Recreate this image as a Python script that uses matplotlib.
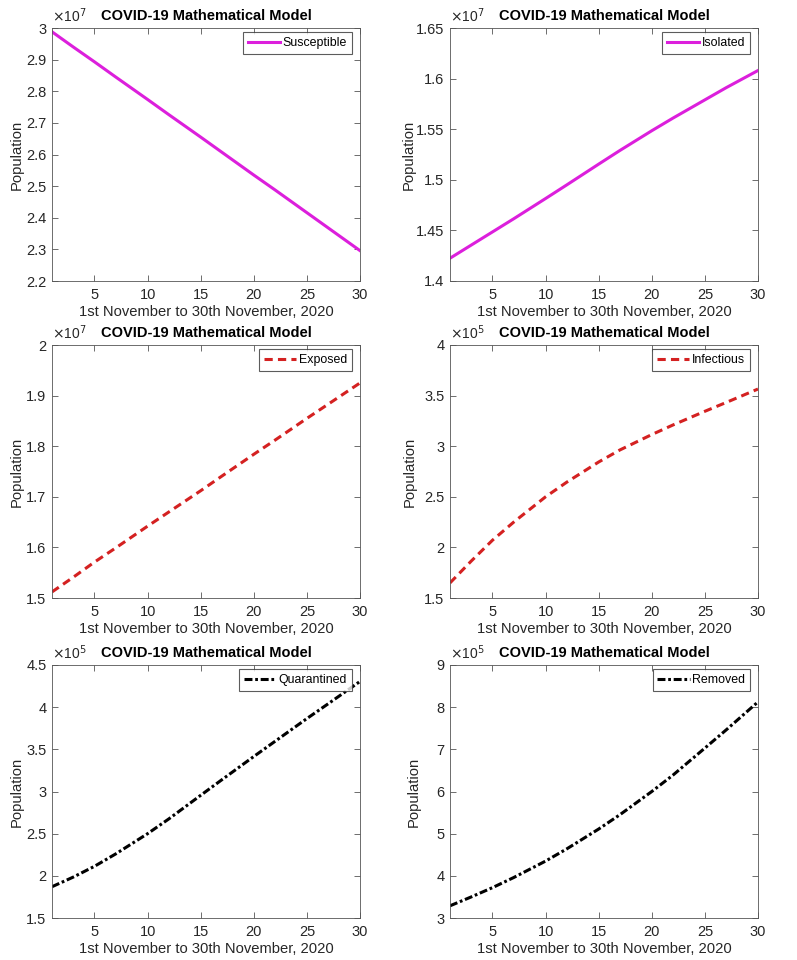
import matplotlib
matplotlib.use("Agg")
import matplotlib.pyplot as plt
from matplotlib.ticker import FuncFormatter

plt.rcParams['font.family'] = ['Liberation Sans', 'DejaVu Sans']

days = [1, 3, 5, 7, 10, 12, 15, 17, 20, 22, 25, 27, 30]
susceptible = [2.988e7, 2.940e7, 2.893e7, 2.845e7, 2.774e7, 2.726e7, 2.655e7,
               2.607e7, 2.535e7, 2.488e7, 2.416e7, 2.368e7, 2.296e7]
isolated = [1.4225e7, 1.4355e7, 1.4485e7, 1.4615e7, 1.4815e7, 1.495e7, 1.5155e7,
            1.529e7, 1.5485e7, 1.561e7, 1.579e7, 1.591e7, 1.608e7]
exposed = [1.512e7, 1.541e7, 1.571e7, 1.599e7, 1.642e7, 1.670e7, 1.712e7,
           1.741e7, 1.784e7, 1.812e7, 1.855e7, 1.883e7, 1.925e7]
infectious = [1.649e5, 1.865e5, 2.071e5, 2.25e5, 2.50e5, 2.645e5, 2.844e5,
              2.963e5, 3.115e5, 3.21e5, 3.345e5, 3.432e5, 3.565e5]
quarantined = [1.871e5, 1.985e5, 2.113e5, 2.26e5, 2.50e5, 2.675e5, 2.955e5,
               3.14e5, 3.415e5, 3.595e5, 3.865e5, 4.04e5, 4.305e5]
removed = [3.289e5, 3.50e5, 3.72e5, 3.96e5, 4.35e5, 4.64e5, 5.11e5,
           5.45e5, 6.00e5, 6.39e5, 7.03e5, 7.46e5, 8.125e5]

title = "COVID-19 Mathematical Model"
xlabel = "1st November to 30th November, 2020"
ylabel = "Population"
xticks = [5, 10, 15, 20, 25, 30]

MAG = "#dc1fdc"
RED = "#d42121"
DASH = (0, (2.7, 1.7))
DASHDOT = (0, (2.6, 0.9, 0.9, 0.9))

panels = [
    (susceptible, "Susceptible", MAG, "-", 7, (2.2, 3.0), [2.2, 2.3, 2.4, 2.5, 2.6, 2.7, 2.8, 2.9, 3.0], 17),
    (isolated, "Isolated", MAG, "-", 7, (1.4, 1.65), [1.4, 1.45, 1.5, 1.55, 1.6, 1.65], 409),
    (exposed, "Exposed", RED, DASH, 7, (1.5, 2.0), [1.5, 1.6, 1.7, 1.8, 1.9, 2.0], 17),
    (infectious, "Infectious", RED, DASH, 5, (1.5, 4.0), [1.5, 2, 2.5, 3, 3.5, 4], 410),
    (quarantined, "Quarantined", "black", DASHDOT, 5, (1.5, 4.5), [1.5, 2, 2.5, 3, 3.5, 4, 4.5], 17),
    (removed, "Removed", "black", DASHDOT, 5, (3, 9), [3, 4, 5, 6, 7, 8, 9], 414),
]

W, H = 797, 960
fig = plt.figure(figsize=(W / 100, H / 100), dpi=100)
lefts_px = [52, 450]
w_px, h_px = 308, 253
tops_px = [28, 345, 665]

def fmt_num(v):
    return ("%.2f" % v).rstrip('0').rstrip('.')

for i, (vals, name, color, ls, exp, ylim, yt, ylab_x) in enumerate(panels):
    r, c = divmod(i, 2)
    lp = lefts_px[c]
    ax = fig.add_axes([lp / W, 1 - (tops_px[r] + h_px) / H, w_px / W, h_px / H])
    ax.plot(days, vals, color=color, linestyle=ls, linewidth=2.2, label=name)
    scale = 10 ** exp
    ax.set_xlim(1, 30)
    ax.set_ylim(ylim[0] * scale, ylim[1] * scale)
    ax.set_xticks(xticks)
    ax.set_yticks([v * scale for v in yt])
    ax.yaxis.set_major_formatter(FuncFormatter(lambda v, p, s=scale: fmt_num(v / s)))
    ax.tick_params(direction='in', top=True, right=True, labelsize=10.5, length=4,
                   color='#555555', width=0.6, labelcolor='#262626')
    ax.tick_params(axis='x', pad=5)
    ax.tick_params(axis='y', pad=4)
    for sp in ax.spines.values():
        sp.set_color('#555555')
        sp.set_linewidth(0.6)
    ax.set_title(title, fontsize=10.5, fontweight='bold', pad=6)
    ax.set_xlabel(xlabel, fontsize=10.6, color='#262626', labelpad=2)
    ax.set_ylabel(ylabel, fontsize=10.6, color='#262626')
    ax.yaxis.label.set_verticalalignment('center')
    ax.yaxis.set_label_coords((ylab_x - lp) / w_px, 0.5)
    ax.text(0.0, 1.01, r"$\times$10$^{%d}$" % exp, transform=ax.transAxes,
            fontsize=10, color='#262626', ha='left', va='bottom')
    leg = ax.legend(loc='upper right', bbox_to_anchor=(1 - 8 / w_px, 1 - 4 / h_px),
                    fontsize=8.9, frameon=True, fancybox=False,
                    handlelength=2.6, handletextpad=0.2, borderpad=0.4,
                    borderaxespad=0.0)
    leg.get_frame().set_edgecolor('#333333')
    leg.get_frame().set_linewidth(0.8)

fig.savefig("out.png", dpi=100)
